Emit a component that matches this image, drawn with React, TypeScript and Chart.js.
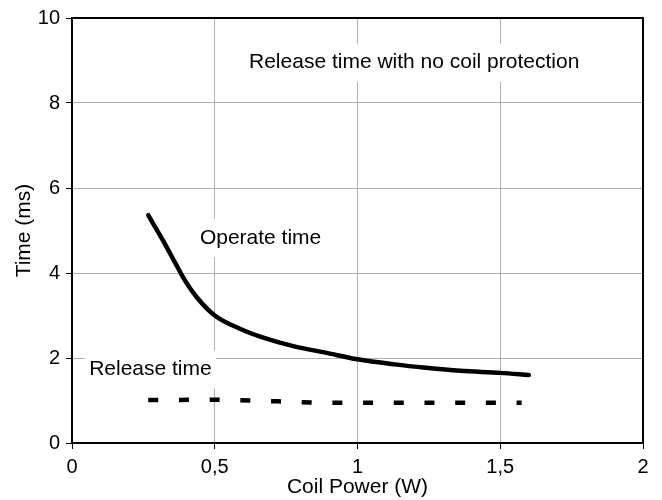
import React, { useEffect, useRef } from "react";
import { Chart, registerables } from "chart.js";

Chart.register(...registerables);

const operateX = [0.267, 0.32, 0.367, 0.396, 0.437, 0.5, 0.588, 0.67, 0.775, 0.892, 1.0, 1.13, 1.24, 1.36, 1.5, 1.6];
const operateY = [5.36, 4.75, 4.17, 3.82, 3.43, 3.0, 2.69, 2.48, 2.28, 2.12, 1.97, 1.85, 1.77, 1.7, 1.65, 1.6];
const releaseX = [0.267, 0.5, 0.72, 0.85, 1.0, 1.3, 1.575];
const releaseY = [1.01, 1.02, 0.98, 0.95, 0.95, 0.95, 0.95];
const xTicks = [0, 0.5, 1, 1.5, 2];
const yTicks = [0, 2, 4, 6, 8, 10];
const labelTexts = ["Operate time", "Release time", "Release time with no coil protection"];
const labelX = [0.448, 0.06, 0.62];
const labelY = [4.82, 1.73, 8.95];

const FONT = "'Liberation Sans', Arial, sans-serif";

const frameAndLabels = {
  id: "frameAndLabels",
  beforeDatasetsDraw(chart: any) {
    const { ctx, scales } = chart;
    ctx.save();
    ctx.font = `21px ${FONT}`;
    ctx.textBaseline = "middle";
    ctx.textAlign = "left";
    labelTexts.forEach((t, i) => {
      const px = scales.x.getPixelForValue(labelX[i]);
      const py = scales.y.getPixelForValue(labelY[i]);
      const w = ctx.measureText(t).width;
      ctx.fillStyle = "#ffffff";
      ctx.fillRect(px - 4, py - 19, w + 8, 38);
      ctx.fillStyle = "#000000";
      ctx.fillText(t, px, py);
    });
    ctx.restore();
  },
  afterDraw(chart: any) {
    const { ctx, chartArea } = chart;
    ctx.save();
    ctx.strokeStyle = "#000";
    ctx.lineWidth = 2;
    ctx.strokeRect(chartArea.left, chartArea.top, chartArea.right - chartArea.left, chartArea.bottom - chartArea.top);
    ctx.restore();
  },
};

export default function App() {
  const ref = useRef<HTMLCanvasElement>(null);
  useEffect(() => {
    if (!ref.current) return;
    const chart = new Chart(ref.current, {
      type: "line",
      data: {
        datasets: [
          {
            label: "Operate time",
            data: operateX.map((x, i) => ({ x, y: operateY[i] })),
            borderColor: "#000",
            borderWidth: 4.5,
            pointRadius: 0,
            cubicInterpolationMode: "monotone",
            borderCapStyle: "round",
            fill: false,
          },
          {
            label: "Release time",
            data: releaseX.map((x, i) => ({ x, y: releaseY[i] })),
            borderColor: "#000",
            borderWidth: 4.5,
            borderDash: [10, 20.7],
            pointRadius: 0,
            tension: 0,
            fill: false,
          },
        ],
      },
      options: {
        responsive: false,
        animation: false,
        layout: { padding: { top: 16, right: 19, left: 0, bottom: 0 } },
        plugins: { legend: { display: false }, tooltip: { enabled: false } },
        scales: {
          x: {
            type: "linear",
            min: 0,
            max: 2,
            afterBuildTicks: (s: any) => { s.ticks = xTicks.map((v) => ({ value: v })); },
            afterFit: (s: any) => { s.height = 57; },
            ticks: {
              color: "#000",
              font: { family: FONT, size: 20 },
              padding: 6,
              maxRotation: 0,
              callback: (v: any) => String(v).replace(".", ","),
            },
            grid: { color: "#b0b0b0", lineWidth: 1, tickColor: "#000", tickLength: 6 },
            border: { color: "#000", width: 2 },
            title: { display: true, text: "Coil Power (W)", color: "#000", font: { family: FONT, size: 21 }, padding: { top: 0, bottom: 0 } },
          },
          y: {
            type: "linear",
            min: 0,
            max: 10,
            afterBuildTicks: (s: any) => { s.ticks = yTicks.map((v) => ({ value: v })); },
            afterFit: (s: any) => { s.width = 72; },
            ticks: { color: "#000", font: { family: FONT, size: 20 }, padding: 6 },
            grid: { color: "#b0b0b0", lineWidth: 1, tickColor: "#000", tickLength: 6 },
            border: { color: "#000", width: 2 },
            title: { display: true, text: "Time (ms)", color: "#000", font: { family: FONT, size: 21 }, padding: { top: 12, bottom: 0 } },
          },
        },
      },
      plugins: [frameAndLabels],
    } as any);
    return () => chart.destroy();
  }, []);
  return (
    <div style={{ position: "fixed", left: 0, top: 0, width: 662, height: 500, background: "#fff" }}>
      <canvas ref={ref} width={662} height={500} style={{ width: 662, height: 500 }} />
    </div>
  );
}
